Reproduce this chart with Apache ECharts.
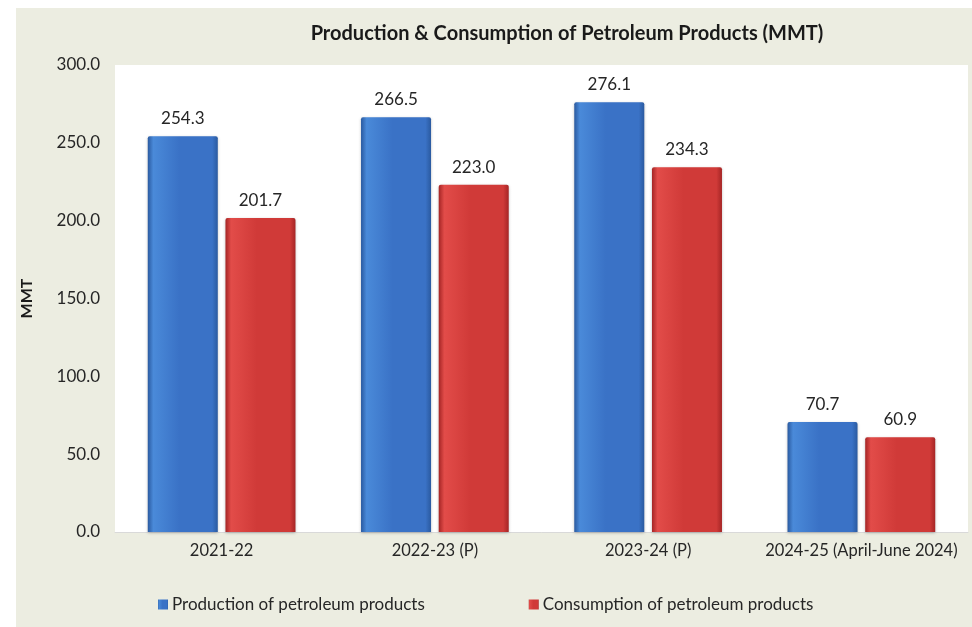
<!DOCTYPE html>
<html>
<head>
<meta charset="utf-8">
<script src="https://cdn.jsdelivr.net/npm/echarts@6/dist/echarts.min.js"></script>
<style>
  html, body { margin: 0; padding: 0; background: #ffffff; }
  #chart { width: 972px; height: 627px; }
</style>
</head>
<body>
<div id="chart"></div>
<script>
// Fiscal years shown on the category axis
const years = ['2021-22', '2022-23 (P)', '2023-24 (P)', '2024-25 (April-June 2024)'];
// Production and consumption of petroleum products, million metric tonnes
const production = [254.3, 266.5, 276.1, 70.7];
const consumption = [201.7, 223.0, 234.3, 60.9];
const seriesNames = ['Production of petroleum products', 'Consumption of petroleum products'];

const FONT = 'Lato, "Open Sans", sans-serif';
const TEXT = '#262626';

function barGradient(edge, light, mid) {
  return new echarts.graphic.LinearGradient(0, 0, 1, 0, [
    { offset: 0, color: edge },
    { offset: 0.08, color: light },
    { offset: 0.45, color: mid },
    { offset: 0.92, color: mid },
    { offset: 1, color: edge }
  ]);
}

const chart = echarts.init(document.getElementById('chart'), null, { renderer: 'canvas' });

chart.setOption({
  backgroundColor: '#ffffff',
  animation: false,
  graphic: [
    {
      type: 'rect',
      z: -10,
      silent: true,
      shape: { x: 16, y: 8, width: 956, height: 619 },
      style: { fill: '#ecede1' }
    }
  ],
  title: {
    text: 'Production & Consumption of Petroleum Products (MMT)',
    left: 562,
    top: 19,
    textAlign: 'center',
    textStyle: { fontFamily: FONT, fontSize: 20, fontWeight: 'bold', color: '#1a1a1a' }
  },
  grid: {
    left: 115,
    right: 4,
    top: 65,
    bottom: 95,
    show: true,
    backgroundColor: '#ffffff',
    borderWidth: 0
  },
  legend: {
    bottom: 9,
    left: 153,
    itemGap: 104,
    itemWidth: 10,
    itemHeight: 10,
    icon: 'rect',
    textStyle: { fontFamily: FONT, fontSize: 17, color: TEXT, padding: [0, 0, 0, -1] },
    data: seriesNames
  },
  xAxis: {
    type: 'category',
    data: years,
    axisLine: { show: true, lineStyle: { color: '#d9d9d9' } },
    axisTick: { show: false },
    axisLabel: { interval: 0, hideOverlap: false, fontFamily: FONT, fontSize: 16.5, color: TEXT, margin: 10 }
  },
  yAxis: {
    type: 'value',
    min: 0,
    max: 300,
    interval: 50,
    name: 'MMT',
    nameLocation: 'middle',
    nameGap: 80,
    nameTextStyle: { fontFamily: FONT, fontSize: 16, fontWeight: 'bold', color: '#1a1a1a' },
    splitLine: { show: false },
    axisLine: { show: false },
    axisTick: { show: false },
    axisLabel: {
      fontFamily: FONT, fontSize: 17, color: TEXT, margin: 15,
      formatter: v => v.toFixed(1)
    }
  },
  series: [
    {
      name: seriesNames[0],
      type: 'bar',
      data: production,
      barWidth: 70,
      barGap: '11%',
      itemStyle: {
        color: barGradient('#2a5aa0', '#4a8ad9', '#3a72c6'),
        borderRadius: [2, 2, 0, 0],
        shadowColor: 'rgba(0,0,0,0.25)',
        shadowBlur: 3,
        shadowOffsetY: 1
      },
      label: {
        show: true, position: 'top', distance: 9,
        fontFamily: FONT, fontSize: 17, color: TEXT,
        formatter: p => p.value.toFixed(1)
      }
    },
    {
      name: seriesNames[1],
      type: 'bar',
      data: consumption,
      barWidth: 70,
      itemStyle: {
        color: barGradient('#a52525', '#e24c49', '#d03a38'),
        borderRadius: [2, 2, 0, 0],
        shadowColor: 'rgba(0,0,0,0.25)',
        shadowBlur: 3,
        shadowOffsetY: 1
      },
      label: {
        show: true, position: 'top', distance: 9,
        fontFamily: FONT, fontSize: 17, color: TEXT,
        formatter: p => p.value.toFixed(1)
      }
    }
  ]
});
</script>
</body>
</html>
